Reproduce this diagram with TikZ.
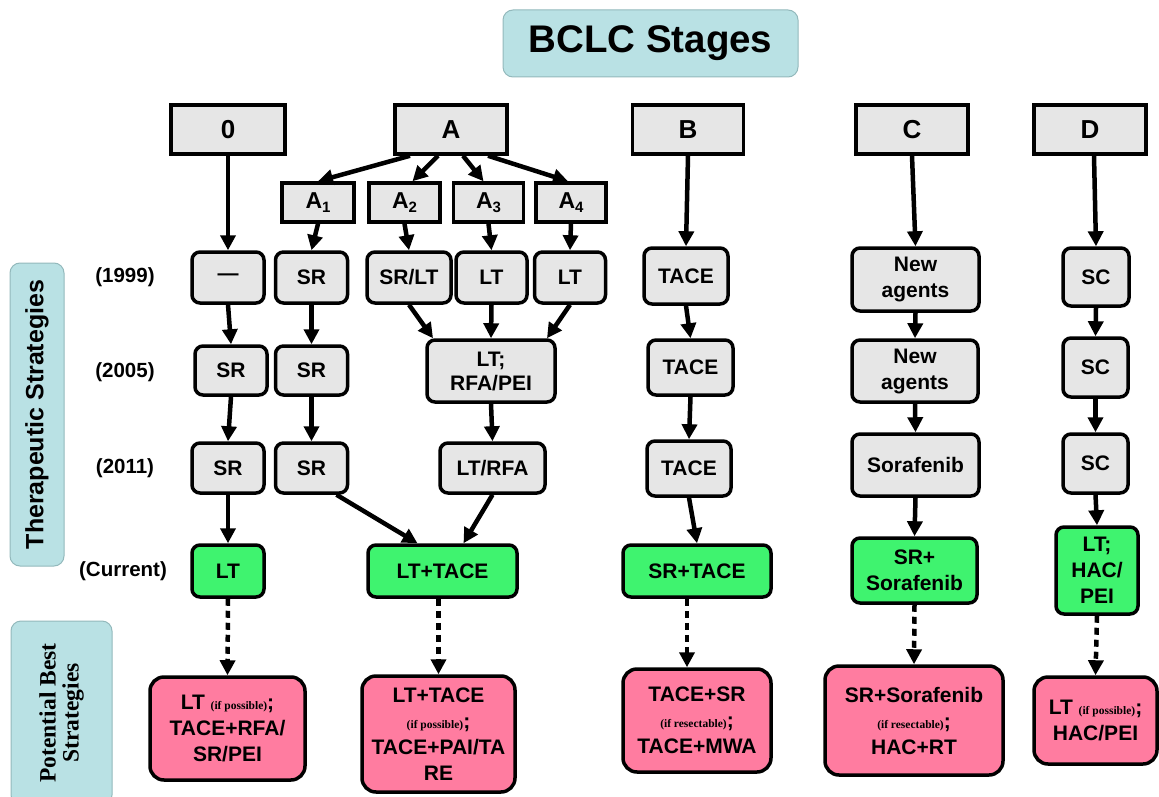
\documentclass[tikz,border=0pt]{standalone}
\usepackage{fontspec}
\setmainfont{Liberation Sans}
\newfontfamily\tnr{Liberation Serif}
\usetikzlibrary{arrows.meta}
\definecolor{gfill}{HTML}{E6E6E6}
\definecolor{grn}{HTML}{3FF36F}
\definecolor{pnk}{HTML}{FF7CA0}
\definecolor{cyanbox}{HTML}{B9E1E4}
\definecolor{cyanline}{HTML}{93B9BC}
\newcommand{\smtxt}[1]{{\tnr\bfseries\fontsize{11.5}{12}\selectfont #1}}
\newcommand{\subsc}[1]{\raisebox{-4pt}{\fontsize{15}{15}\selectfont #1}}
\begin{document}
\begin{tikzpicture}[x=1pt,y=-1pt,
  stagebox/.style={draw, line width=3.5pt, fill=gfill, inner sep=0pt, font=\bfseries\fontsize{26}{28}\selectfont},
  subbox/.style={draw, line width=3.5pt, fill=gfill, inner sep=0pt, font=\bfseries\fontsize{23}{24}\selectfont},
  gbox/.style={draw, line width=3.5pt, fill=gfill, rounded corners=8pt, inner sep=0pt, align=center, font=\bfseries\fontsize{21}{26}\selectfont},
  grbox/.style={gbox, fill=grn},
  pkbox/.style={gbox, fill=pnk, rounded corners=14pt},
  sidebox/.style={draw=cyanline, line width=1pt, fill=cyanbox, rounded corners=10pt, inner sep=0pt, align=center},
  yearlbl/.style={font=\bfseries\fontsize{20.5}{22}\selectfont},
  arr/.style={line width=4.5pt, -{Triangle[length=15pt,width=15pt]}},
  darr/.style={arr, dash pattern=on 7pt off 5pt},
]
\useasboundingbox (0,0) rectangle (1159,797);

% title
\node[sidebox, minimum width=295pt, minimum height=67pt, font=\bfseries\fontsize{38.5}{40}\selectfont] (title) at (650.5,43.5) {BCLC Stages};

% side labels
\node[sidebox, rotate=90, minimum width=303pt, minimum height=54pt, font=\bfseries\fontsize{25}{26}\selectfont] (ts) at (37,414.5) {Therapeutic Strategies};
\node[sidebox, rotate=90, minimum width=184pt, minimum height=101pt, font=\tnr\bfseries\fontsize{23.5}{23}\selectfont] (pbs) at (61.5,713) {Potential Best\\Strategies};

% year labels
\node[yearlbl] (y1999) at (125,277) {(1999)};
\node[yearlbl] (y2005) at (125,372) {(2005)};
\node[yearlbl] (y2011) at (125,468) {(2011)};
\node[yearlbl] (ycur) at (123,571) {(Current)};

% stages
\node[stagebox, minimum width=114pt, minimum height=49pt] (s0) at (228,129.5) {0};
\node[stagebox, minimum width=112pt, minimum height=49pt] (sA) at (451,129.5) {A};
\node[stagebox, minimum width=111pt, minimum height=49pt] (sB) at (688,129.5) {B};
\node[stagebox, minimum width=112pt, minimum height=49pt] (sC) at (912,129.5) {C};
\node[stagebox, minimum width=112pt, minimum height=49pt] (sD) at (1090,129.5) {D};

% A sub-stages
\node[subbox, minimum width=72pt, minimum height=39pt] (A1) at (318,202.5) {A\subsc{1}};
\node[subbox, minimum width=71pt, minimum height=39pt] (A2) at (404.5,202.5) {A\subsc{2}};
\node[subbox, minimum width=70pt, minimum height=39pt] (A3) at (488.5,202.5) {A\subsc{3}};
\node[subbox, minimum width=70pt, minimum height=39pt] (A4) at (571,202.5) {A\subsc{4}};

% 1999
\node[gbox, minimum width=72pt, minimum height=51pt] (d99) at (228,277.5) {---};
\node[gbox, minimum width=72pt, minimum height=51pt] (sr99) at (311.5,277.5) {SR};
\node[gbox, minimum width=84pt, minimum height=51pt] (srlt99) at (409,277.5) {SR/LT};
\node[gbox, minimum width=71pt, minimum height=51pt] (lta99) at (491.5,277.5) {LT};
\node[gbox, minimum width=71pt, minimum height=51pt] (ltb99) at (570,277.5) {LT};
\node[gbox, minimum width=84pt, minimum height=56pt] (tace99) at (686,276) {TACE};
\node[gbox, minimum width=127pt, minimum height=63pt] (na99) at (915.5,279.5) {New\\agents};
\node[gbox, minimum width=66pt, minimum height=58pt] (sc99) at (1096,277) {SC};

% 2005
\node[gbox, minimum width=72pt, minimum height=49pt] (sr05) at (231,370.5) {SR};
\node[gbox, minimum width=72pt, minimum height=49pt] (srb05) at (311.5,370.5) {SR};
\node[gbox, minimum width=128pt, minimum height=62pt, font=\bfseries\fontsize{21}{24}\selectfont] (lrp05) at (491,371) {LT;\\RFA/PEI};
\node[gbox, minimum width=85pt, minimum height=55pt] (tace05) at (690.5,367.5) {TACE};
\node[gbox, minimum width=126pt, minimum height=62pt] (na05) at (915,371) {New\\agents};
\node[gbox, minimum width=65pt, minimum height=59pt] (sc05) at (1095.5,367.5) {SC};

% 2011
\node[gbox, minimum width=72pt, minimum height=50pt] (sr11) at (228,468) {SR};
\node[gbox, minimum width=72pt, minimum height=50pt] (srb11) at (311.5,468) {SR};
\node[gbox, minimum width=105pt, minimum height=50pt] (ltrfa11) at (492.5,468) {LT/RFA};
\node[gbox, minimum width=84pt, minimum height=55pt] (tace11) at (689,468.5) {TACE};
\node[gbox, minimum width=127pt, minimum height=62pt] (sor11) at (915.5,465) {Sorafenib};
\node[gbox, minimum width=65pt, minimum height=59pt] (sc11) at (1095.5,463.5) {SC};

% current
\node[grbox, minimum width=72pt, minimum height=52pt] (ltc) at (228,571) {LT};
\node[grbox, minimum width=149pt, minimum height=52pt] (lttc) at (442.5,571) {LT+TACE};
\node[grbox, minimum width=148pt, minimum height=52pt] (srtc) at (697,571) {SR+TACE};
\node[grbox, minimum width=125pt, minimum height=65pt] (srsc) at (914.5,570.5) {SR+\\Sorafenib};
\node[grbox, minimum width=82pt, minimum height=87pt] (lthc) at (1097,570.5) {LT;\\HAC/\\PEI};

% potential best
\node[pkbox, minimum width=155pt, minimum height=103pt] (p1) at (227.5,728.5) {LT \smtxt{(if possible)};\\TACE+RFA/\\SR/PEI};
\node[pkbox, minimum width=153pt, minimum height=116pt] (p2) at (438.5,734) {LT+TACE\\\smtxt{(if possible)};\\TACE+PAI/TA\\RE};
\node[pkbox, minimum width=148pt, minimum height=103pt] (p3) at (697,720.5) {TACE+SR\\\smtxt{(if resectable)};\\TACE+MWA};
\node[pkbox, minimum width=178pt, minimum height=109pt] (p4) at (914,720.5) {SR+Sorafenib\\\smtxt{(if resectable)};\\HAC+RT};
\node[pkbox, minimum width=123pt, minimum height=87pt] (p5) at (1095.5,720.5) {LT \smtxt{(if possible)};\\HAC/PEI};

% arrows: stages
\draw[arr] (s0.south) -- (d99.north);
\draw[arr] ([xshift=-41pt]sA.south) -- (A1.north);
\draw[arr] ([xshift=-13pt]sA.south) -- ([xshift=8pt]A2.north);
\draw[arr] ([xshift=12pt]sA.south) -- ([xshift=-5pt]A3.north);
\draw[arr] ([xshift=37pt]sA.south) -- ([xshift=-3pt]A4.north);
\draw[arr] (sB.south) -- (tace99.north);
\draw[arr] (sC.south) -- (na99.north);
\draw[arr] ([xshift=4pt]sD.south) -- (sc99.north);
\draw[arr] (A1.south) -- (sr99.north);
\draw[arr] (A2.south) -- (srlt99.north);
\draw[arr] (A3.south) -- (lta99.north);
\draw[arr] (A4.south) -- (ltb99.north);

% 1999 -> 2005
\draw[arr] (d99.south) -- (sr05.north);
\draw[arr] (sr99.south) -- (srb05.north);
\draw[arr] (srlt99.south) -- ([xshift=-58pt]lrp05.north);
\draw[arr] (lta99.south) -- (lrp05.north);
\draw[arr] (ltb99.south) -- ([xshift=56pt]lrp05.north);
\draw[arr] (tace99.south) -- (tace05.north);
\draw[arr] (na99.south) -- (na05.north);
\draw[arr] (sc99.south) -- (sc05.north);

% 2005 -> 2011
\draw[arr] (sr05.south) -- (sr11.north);
\draw[arr] (srb05.south) -- (srb11.north);
\draw[arr] (lrp05.south) -- (ltrfa11.north);
\draw[arr] (tace05.south) -- (tace11.north);
\draw[arr] (na05.south) -- (sor11.north);
\draw[arr] (sc05.south) -- (sc11.north);

% 2011 -> current
\draw[arr] (sr11.south) -- (ltc.north);
\draw[arr] ([xshift=25pt]srb11.south) -- ([xshift=-25pt]lttc.north);
\draw[arr] (ltrfa11.south) -- ([xshift=21pt]lttc.north);
\draw[arr] (tace11.south) -- (srtc.north);
\draw[arr] (sor11.south) -- (srsc.north);
\draw[arr] (sc11.south) -- (lthc.north);

% current -> potential
\draw[darr] (ltc.south) -- (p1.north);
\draw[darr] ([xshift=-4pt]lttc.south) -- (p2.north);
\draw[darr] ([xshift=-10pt]srtc.south) -- ([xshift=-10pt]p3.north);
\draw[darr] (srsc.south) -- (p4.north);
\draw[darr] (lthc.south) -- (p5.north);
\end{tikzpicture}
\end{document}
